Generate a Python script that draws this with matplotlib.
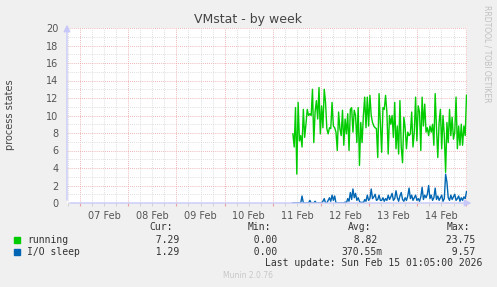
import numpy as np
import matplotlib
matplotlib.use("Agg")
import matplotlib.pyplot as plt

# 时间轴：以 2月7日 00:00 为 0 点，单位小时
day_labels = ["07 Feb", "08 Feb", "09 Feb", "10 Feb", "11 Feb", "12 Feb", "13 Feb", "14 Feb"]
start_hour = 106.0      # 11 Feb 10:00，数据从这里开始
step_hour = 0.65        # 采样间隔

running = [
    7.9, 6.4, 10.9, 3.3, 11.5, 7.1, 7.7, 6.4, 10.7, 7.5, 9.0, 10.7, 10.0, 10.2, 10.0, 13.0,
    6.9, 10.4, 11.7, 9.6, 13.2, 7.9, 11.1, 8.6, 13.0, 11.5, 8.5, 7.9, 8.6, 8.5, 11.5, 8.8, 8.6,
    8.1, 6.0, 10.4, 8.5, 7.7, 10.6, 6.6, 9.6, 7.9, 10.2, 6.0, 10.7, 10.9, 8.1, 10.6, 10.0, 6.9,
    10.9, 4.3, 9.2, 6.9, 10.0, 12.1, 8.6, 12.1, 8.8, 12.3, 10.0, 9.2, 8.8, 8.6, 8.5, 5.2, 12.5, 9.2,
    5.8, 10.9, 10.7, 12.3, 10.4, 5.6, 10.0, 9.0, 10.0, 7.5, 11.5, 6.2, 8.8, 5.6, 11.7, 6.4, 4.6,
    9.8, 8.6, 6.2, 8.1, 7.7, 7.9, 10.4, 6.4, 8.1, 12.1, 7.1, 11.1, 10.4, 6.0, 12.1, 8.8, 11.3,
    8.1, 8.6, 7.7, 8.8, 8.1, 9.0, 6.6, 12.5, 8.6, 5.2, 9.2, 10.7, 6.2, 10.0, 7.7, 3.5, 9.2, 6.9,
    10.7, 7.7, 9.8, 7.3, 8.1, 12.1, 6.2, 8.8, 6.6, 9.0, 6.6, 8.8, 7.7, 12.3,
]
io_sleep = [
    0, 0, 0, 0, 0, 0, 0, 0.8, 0, 0, 0, 0, 0, 0.3, 0, 0, 0, 0.2, 0, 0, 0, 0, 0, 0.2, 0.5, 0, 0,
    0.3, 0.6, 0.2, 0.9, 0.3, 0.8, 0,
    0, 0, 0, 0, 0, 0, 0.1, 0, 0.5, 0.2, 1.2, 0.4, 1.6, 0.6, 1.1, 0.3, 0.6, 0.2, 0, 0.1, 0, 0.4,
    0.2, 0.9, 0.3, 0.5, 1.6, 0.5, 0.7, 1.0, 0.3, 0.4, 0.9, 0.3,
    0.3, 0.6, 0.2, 0.5, 0.3, 0.9, 0.4, 0.7, 1.1, 0.3, 0.5, 1.4, 0.6, 0.2, 0.8, 1.2, 0.4, 0.2,
    0.6, 0.3, 0.8, 1.7, 0.5, 0.9, 0.3, 0.6, 0.9, 0.3, 0.5, 0.2, 0.7, 1.8, 0.4, 0.9,
    0.6, 1.0, 2.0, 0.5, 0.9, 0.3, 0.6, 1.7, 0.4, 0.8, 0.3, 0.6, 0.9, 0.2, 0.5, 3.3, 2.4, 0.6,
    0.3, 0.9, 0.4, 0.7, 1.0, 0.3, 0.5, 0.8, 0.2, 0.6, 0.3, 0.7, 0.5, 1.29,
]

# 图例统计值
series_names = ["running", "I/O sleep"]
series_colors = ["#00cc00", "#0066b3"]
cur_vals = [7.29, 1.29]
min_vals = [0.00, 0.00]
avg_vals = [8.82, 0.37055]
max_vals = [23.75, 9.57]

W, H = 497, 287
fig = plt.figure(figsize=(W / 100, H / 100), dpi=100, facecolor="#f0f0f0")
ax = fig.add_axes([67 / W, 1 - 203 / H, 400 / W, 175 / H], facecolor="white")

t = start_hour + step_hour * np.arange(len(running))
ax.plot(t, running, color=series_colors[0], lw=1.0, zorder=3)
ax.plot(t, io_sleep, color=series_colors[1], lw=1.0, zorder=3)

ax.set_xlim(-6.5, 192.7)
ax.set_ylim(0, 20)

# 网格：红色主网格（偶数 / 午夜），灰色次网格（每 1 / 每 6 小时）
ax.set_yticks(np.arange(0, 21, 2))
ax.set_yticks(np.arange(0, 21, 1), minor=True)
midnights = np.arange(0, 193, 24)
six_hours = np.arange(-6, 193, 6)
ax.set_xticks(midnights, labels=[""] * len(midnights))
minor_labels = []
for h in six_hours:
    if h % 24 == 12 and 0 <= h // 24 < len(day_labels):
        minor_labels.append(day_labels[int(h // 24)])
    else:
        minor_labels.append("")
ax.set_xticks(six_hours, labels=minor_labels, minor=True)

ax.grid(which="minor", color="#d4d4d4", lw=0.6, ls=(0, (1, 1.5)), zorder=1)
ax.grid(which="major", color="#e8a0a0", lw=0.6, ls=(0, (1, 1.5)), zorder=2)

ax.tick_params(axis="y", which="both", length=0, pad=6, labelsize=7, labelcolor="#555555")
ax.tick_params(axis="x", which="major", length=2, color="#e8a0a0", pad=4)
ax.tick_params(axis="x", which="minor", length=2, color="#cccccc", pad=4, labelsize=7,
               labelcolor="#555555")

for s in ax.spines.values():
    s.set_visible(False)

# 坐标轴与箭头
axis_col = "#c8c8f8"
ax.annotate("", xy=(0, 1.035), xytext=(0, 0), xycoords="axes fraction",
            arrowprops=dict(arrowstyle="-|>,head_length=0.4,head_width=0.2", color=axis_col, lw=1),
            annotation_clip=False)
ax.annotate("", xy=(1.018, 0), xytext=(0, 0), xycoords="axes fraction",
            arrowprops=dict(arrowstyle="-|>,head_length=0.4,head_width=0.2", color=axis_col, lw=1),
            annotation_clip=False)

fig.text(248 / W, 1 - 19 / H, "VMstat - by week", ha="center", va="center", fontsize=9,
         color="#444444")
fig.text(10 / W, 1 - 115 / H, "process states", rotation=90, ha="center", va="center",
         fontsize=7, color="#444444")
fig.text(487 / W, 1 - 5 / H, "RRDTOOL / TOBI OETIKER", rotation=270, ha="center", va="top",
         fontsize=5.5, color="#c0c0c0")

# 图例（等宽字体）
mono = dict(family="DejaVu Sans Mono", fontsize=7, color="#333333", va="center")
for hx, htxt in zip([149, 248, 348, 447], ["Cur:", "Min:", "Avg:", "Max:"]):
    fig.text(hx / W, 1 - 227 / H, htxt, ha="left", **mono)


def fmt(v):
    if v != 0 and abs(v) < 1:
        return f"{v * 1000:6.2f}m"
    return f"{v:6.2f} "


for i, name in enumerate(series_names):
    y = 1 - (240 + 12 * i) / H
    fig.patches.append(plt.Rectangle((14 / W, y - 3 / H), 6 / W, 6 / H, color=series_colors[i],
                                     transform=fig.transFigure, figure=fig))
    fig.text(27 / W, y, name, ha="left", **mono)
    for left, v in zip([143.5, 242.5, 341.5, 440.5], [cur_vals[i], min_vals[i], avg_vals[i], max_vals[i]]):
        fig.text(left / W, y, fmt(v), ha="left", **mono)

fig.text(482 / W, 1 - 263 / H, "Last update: Sun Feb 15 01:05:00 2026", ha="right", **mono)
fig.text(248 / W, 1 - 276 / H, "Munin 2.0.76", ha="center", va="center", fontsize=5.5,
         color="#c8c8c8")

fig.savefig("out.png", dpi=100, facecolor=fig.get_facecolor())
